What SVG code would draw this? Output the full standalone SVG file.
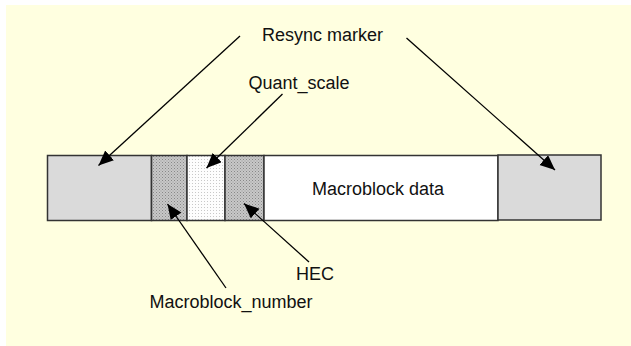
<svg xmlns="http://www.w3.org/2000/svg" width="631" height="346" viewBox="0 0 631 346">
<style>
.lbl{font-family:"Liberation Sans",Arial,sans-serif;font-size:18px;fill:#111}
.box{stroke:#333;stroke-width:1.5}
.con{stroke:#000;stroke-width:1.3;fill:none}
</style>
<defs>
<pattern id="dark" width="3" height="3" patternUnits="userSpaceOnUse">
<rect width="3" height="3" fill="#c8c8c8"/>
<rect x="0" y="0" width="1" height="1" fill="#888"/>
<rect x="1.5" y="1.5" width="1" height="1" fill="#999"/>
</pattern>
<pattern id="light" width="3" height="3" patternUnits="userSpaceOnUse">
<rect width="3" height="3" fill="#fdfdfd"/>
<rect x="0" y="0" width="1" height="1" fill="#c8c8c8"/>
</pattern>
<marker id="ah" markerUnits="userSpaceOnUse" markerWidth="16" markerHeight="14" refX="15" refY="6.5" orient="auto">
<path d="M0,0 L15,6.5 L0,13 Z" fill="#000"/>
</marker>
</defs>
<rect x="6" y="5" width="625" height="341" fill="#ffffe0"/>
<g id="resync-left"><rect class="box" x="47.5" y="155.5" width="104" height="65" fill="#dadada"/></g>
<g id="macroblock-number-box"><rect class="box" x="151.5" y="155.5" width="35.5" height="65" fill="url(#dark)"/></g>
<g id="quant-scale-box"><rect class="box" x="187" y="155.5" width="38" height="65" fill="url(#light)"/></g>
<g id="hec-box"><rect class="box" x="225" y="155.5" width="39" height="65" fill="url(#dark)"/></g>
<g id="macroblock-data"><rect class="box" x="264" y="155.5" width="234" height="65" fill="#fff"/>
<text class="lbl" x="312" y="195">Macroblock data</text></g>
<g id="resync-right"><rect class="box" x="498" y="155" width="103" height="65" fill="#dadada"/></g>
<g id="labels">
<text class="lbl" x="262" y="41">Resync marker</text>
<text class="lbl" x="248.5" y="89">Quant_scale</text>
<text class="lbl" x="296" y="280">HEC</text>
<text class="lbl" x="149.5" y="308">Macroblock_number</text>
</g>
<g id="connectors">
<line class="con" x1="240" y1="36" x2="98.5" y2="165.5" marker-end="url(#ah)"/>
<line class="con" x1="406.5" y1="38" x2="555" y2="170" marker-end="url(#ah)"/>
<line class="con" x1="282.5" y1="94" x2="206.5" y2="168" marker-end="url(#ah)"/>
<line class="con" x1="226" y1="288" x2="167.5" y2="204" marker-end="url(#ah)"/>
<line class="con" x1="309" y1="262" x2="244" y2="203.5" marker-end="url(#ah)"/>
</g>
</svg>
